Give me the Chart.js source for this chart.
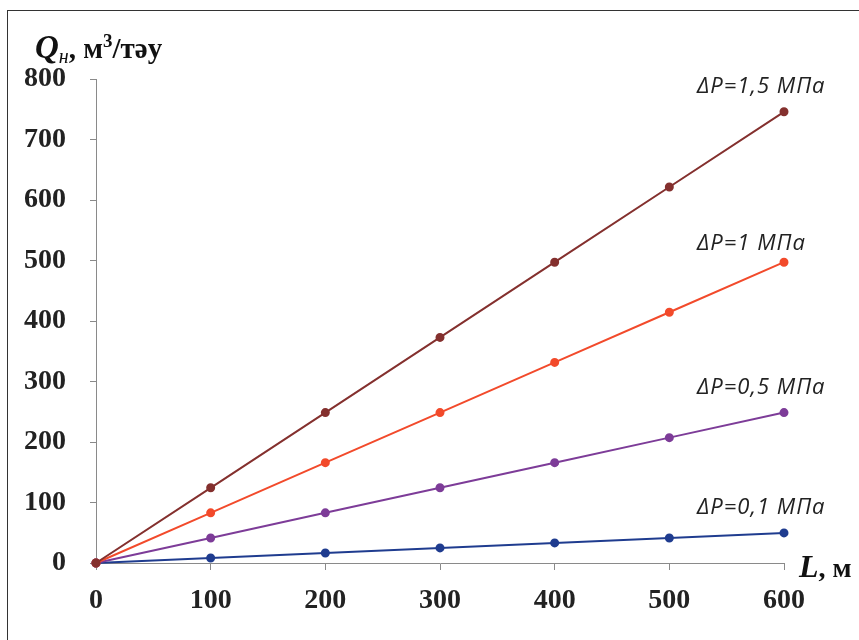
<!DOCTYPE html>
<html>
<head>
<meta charset="utf-8">
<script src="https://cdn.jsdelivr.net/npm/chart.js@4/dist/chart.umd.min.js"></script>
<style>
  html, body { margin: 0; padding: 0; background: #fff; }
  #wrap { position: relative; width: 859px; height: 640px; overflow: hidden; }
  #frame { position: absolute; left: 7px; top: 10px; width: 900px; height: 700px; border: 1.5px solid #333; box-sizing: border-box; }
  canvas { position: absolute; left: 0; top: 0; }
</style>
</head>
<body>
<div id="wrap">
  <div id="frame"></div>
  <canvas id="chart" width="859" height="640"></canvas>
</div>
<script>
// lengths L, m
var lengths = [0, 100, 200, 300, 400, 500, 600];
// flow rate Q, m3/day for each pressure drop
var q15 = [0, 124.3, 248.6, 372.9, 497.2, 621.5, 745.8];
var q10 = [0, 82.9, 165.8, 248.6, 331.5, 414.4, 497.2];
var q05 = [0, 41.4, 82.9, 124.3, 165.8, 207.2, 248.6];
var q01 = [0, 8.3, 16.6, 24.9, 33.2, 41.4, 49.7];
var seriesNames = ['ΔP=1,5 МПа', 'ΔP=1 МПа', 'ΔP=0,5 МПа', 'ΔP=0,1 МПа'];
var xTicks = [0, 100, 200, 300, 400, 500, 600];
var yTicks = [0, 100, 200, 300, 400, 500, 600, 700, 800];

var colors = ['#84302e', '#f24a2b', '#7d3c98', '#1f3c8f'];
var labelDy = [-25, -18, -25, -25];

function pts(vals) {
  return lengths.map(function(l, i) { return { x: l, y: vals[i] }; });
}

var seriesVals = [q15, q10, q05, q01];
var datasets = seriesVals.map(function(v, i) {
  return {
    label: seriesNames[i],
    data: pts(v),
    borderColor: colors[i],
    backgroundColor: colors[i],
    borderWidth: 2,
    pointRadius: 3.5,
    pointHoverRadius: 3.5,
    tension: 0,
    clip: false
  };
});

var serif = '"Liberation Serif", "Times New Roman", serif';

var decor = {
  id: 'decor',
  afterDraw: function(chart) {
    var ctx = chart.ctx;
    ctx.save();
    // series labels
    ctx.font = 'italic 22px "Open Sans", "Liberation Sans", sans-serif';
    ctx.letterSpacing = '1px';
    ctx.fillStyle = '#222';
    ctx.textBaseline = 'middle';
    ctx.textAlign = 'left';
    chart.data.datasets.forEach(function(ds, i) {
      var meta = chart.getDatasetMeta(i);
      var last = meta.data[meta.data.length - 1];
      ctx.fillText(ds.label, 697, last.y + labelDy[i]);
    });
    ctx.letterSpacing = '0px';
    // y title
    ctx.fillStyle = '#111';
    ctx.textBaseline = 'alphabetic';
    var x = 35, y = 58;
    ctx.font = 'bold italic 33px ' + serif;
    ctx.fillText('Q', x, y); x += ctx.measureText('Q').width;
    ctx.font = 'italic 20px ' + serif;
    ctx.fillText('н', x, y + 5); x += ctx.measureText('н').width;
    ctx.font = 'bold 29px ' + serif;
    ctx.fillText(', м', x, y); x += ctx.measureText(', м').width;
    ctx.font = 'bold 19px ' + serif;
    ctx.fillText('3', x, y - 11); x += ctx.measureText('3').width;
    ctx.font = 'bold 29px ' + serif;
    ctx.fillText('/тәу', x, y);
    // x title
    x = 799; y = 577;
    ctx.font = 'bold italic 32px ' + serif;
    ctx.fillText('L', x, y); x += ctx.measureText('L').width;
    ctx.font = 'bold 28px ' + serif;
    ctx.fillText(', м', x, y);
    ctx.restore();
  }
};

new Chart(document.getElementById('chart'), {
  type: 'line',
  data: { datasets: datasets },
  options: {
    responsive: false,
    animation: false,
    layout: { padding: { left: 0, right: 75, top: 79, bottom: 0 } },
    plugins: { legend: { display: false }, tooltip: { enabled: false } },
    scales: {
      x: {
        type: 'linear',
        min: 0, max: 600,
        afterBuildTicks: function(s) { s.ticks = xTicks.map(function(v) { return { value: v }; }); },
        afterFit: function(s) { s.height = 77; },
        border: { color: '#8a8a8a', width: 1 },
        grid: { drawOnChartArea: false, drawTicks: true, tickLength: 7, color: '#8a8a8a' },
        ticks: { color: '#222', padding: 14, font: { family: serif, size: 28, weight: 'bold' }, maxRotation: 0 }
      },
      y: {
        min: 0, max: 800,
        afterBuildTicks: function(s) { s.ticks = yTicks.map(function(v) { return { value: v }; }); },
        afterFit: function(s) { s.width = 96; },
        border: { color: '#8a8a8a', width: 1 },
        grid: { drawOnChartArea: false, drawTicks: true, tickLength: 6, color: '#8a8a8a' },
        ticks: { color: '#222', padding: 24, font: { family: serif, size: 28, weight: 'bold' } }
      }
    }
  },
  plugins: [decor]
});
</script>
</body>
</html>
